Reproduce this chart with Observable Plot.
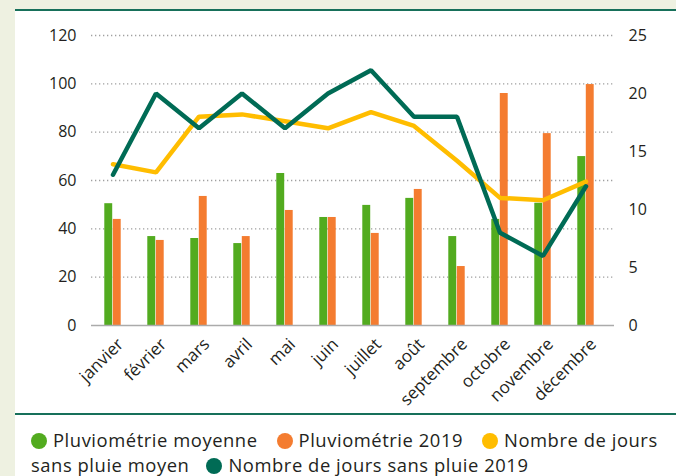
<!DOCTYPE html>
<html>
<head>
<meta charset="utf-8">
<script src="https://cdn.jsdelivr.net/npm/d3@7"></script>
<script src="https://cdn.jsdelivr.net/npm/@observablehq/plot@0.6"></script>
<style>
  html, body { margin: 0; padding: 0; background: #eef1e1; overflow: hidden; }
  body { width: 676px; height: 476px; position: relative; font-family: "Open Sans", sans-serif; color: #231f20; }
  #panel { position: absolute; left: 15px; top: 9px; width: 661px; height: 467px; background: #fff; border-top: 2px solid #17705a; }
  #chart { height: 402px; }
  #chart svg { display: block; }
  #legend { border-top: 2px solid #17705a; padding: 12px 0 0 16px; font-size: 18.4px; letter-spacing: 0.55px; line-height: 25.2px; white-space: nowrap; }
  .sw { display: inline-block; width: 16px; height: 16px; border-radius: 50%; vertical-align: -2px; margin-right: 6px; }
  .item { margin-right: 19px; }
</style>
</head>
<body>
<div id="panel">
  <div id="chart"></div>
  <div id="legend"></div>
</div>
<script>
const months = ["janvier", "février", "mars", "avril", "mai", "juin", "juillet", "août", "septembre", "octobre", "novembre", "décembre"];
const pluvioMoyenne = [50.4, 36.8, 36.0, 33.9, 62.9, 44.7, 49.7, 52.6, 36.8, 43.9, 50.6, 69.9];
const pluvio2019 = [43.9, 35.2, 53.4, 36.8, 47.6, 44.7, 38.1, 56.3, 24.4, 96.0, 79.4, 99.7];
const joursMoyen = [13.9, 13.2, 18.0, 18.2, 17.6, 17.0, 18.4, 17.2, 14.2, 11.0, 10.8, 12.4];
const jours2019 = [13, 20, 17, 20, 17, 20, 22, 18, 18, 8, 6, 12];
const leftTicks = [0, 20, 40, 60, 80, 100, 120];
const rightTicks = [0, 5, 10, 15, 20, 25];
const seriesNames = ["Pluviométrie moyenne", "Pluviométrie 2019", "Nombre de jours sans pluie moyen", "Nombre de jours sans pluie 2019"];
const seriesColors = ["#52ab1f", "#f47c30", "#ffbd00", "#006b55"];

const k = 120 / 25;
const data = months.map((m, i) => ({
  month: m,
  moy: pluvioMoyenne[i],
  p2019: pluvio2019[i],
  jm: joursMoyen[i] * k,
  j19: jours2019[i] * k
}));

const bw = 523 / 12;
const half = bw / 2;
const barW = 8.5;

const chart = Plot.plot({
  width: 661,
  height: 402,
  marginTop: 24,
  marginBottom: 88,
  marginLeft: 72,
  marginRight: 66,
  style: { fontFamily: "Open Sans, sans-serif", fontSize: "16px", color: "#231f20", background: "none", overflow: "visible" },
  x: { domain: months, padding: 0, axis: null },
  y: { domain: [0, 120], axis: null },
  marks: [
    Plot.ruleY(leftTicks.filter(d => d > 0), { dx: 4, stroke: "#a0a0a0", strokeWidth: 1.3, strokeDasharray: "1.3,2.7" }),
    Plot.barY(data, { x: "month", y: "moy", fill: seriesColors[0], insetLeft: half - barW, insetRight: half }),
    Plot.barY(data, { x: "month", y: "p2019", fill: seriesColors[1], insetLeft: half, insetRight: half - barW }),
    Plot.ruleY([0], { dx: 4, stroke: "#ababab", strokeWidth: 1.6 }),
    Plot.line(data, { x: "month", y: "jm", stroke: seriesColors[2], strokeWidth: 4.5, strokeLinejoin: "miter" }),
    Plot.line(data, { x: "month", y: "j19", stroke: seriesColors[3], strokeWidth: 4.5, strokeLinejoin: "miter" }),
    Plot.axisY(leftTicks, { anchor: "left", tickSize: 0, tickPadding: 11, fontSize: 16 }),
    Plot.axisY(rightTicks.map(v => v * k), { anchor: "right", tickSize: 0, tickPadding: 18, fontSize: 16, tickFormat: d => String(Math.round(d / k)) }),
    Plot.text(data, { x: "month", y: () => 0, text: "month", rotate: -45, textAnchor: "end", dx: 7.5, dy: 16, fontSize: 17, fill: "#231f20" })
  ]
});
document.getElementById("chart").appendChild(chart);

const legend = document.getElementById("legend");
function addItem(i, label, last) {
  const span = document.createElement("span");
  span.className = "item";
  const sw = document.createElement("span");
  sw.className = "sw";
  sw.style.background = seriesColors[i];
  span.appendChild(sw);
  span.appendChild(document.createTextNode(label));
  if (last) span.style.marginRight = "0";
  legend.appendChild(span);
}
addItem(0, seriesNames[0]);
addItem(1, seriesNames[1]);
addItem(2, "Nombre de jours", true);
legend.appendChild(document.createElement("br"));
legend.appendChild(document.createTextNode("sans pluie moyen"));
const gap = document.createElement("span");
gap.style.display = "inline-block";
gap.style.width = "17px";
legend.appendChild(gap);
addItem(3, seriesNames[3], true);
</script>
</body>
</html>
